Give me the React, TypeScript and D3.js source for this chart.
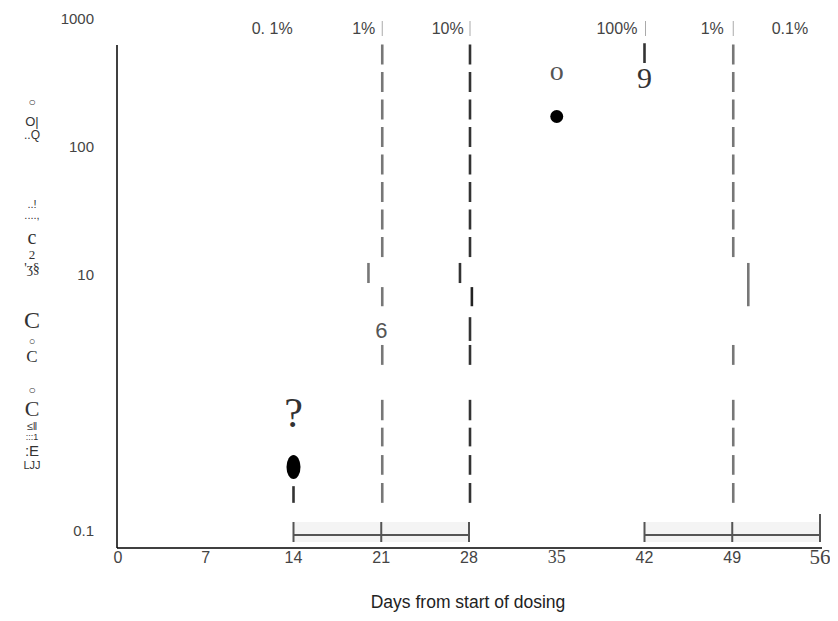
import React from "react";
import * as d3 from "d3";

const xTicks = [0, 7, 14, 21, 28, 35, 42, 49, 56];
const xTickSerif = [35, 56];
const yTicks = [1000, 100, 10, 0.1];
const yTickLabels = ["1000", "100", "10", "0.1"];
const topLabels = [
  { day: 12.3, text: "0. 1%" },
  { day: 19.6, text: "1%" },
  { day: 26.3, text: "10%" },
  { day: 39.8, text: "100%" },
  { day: 47.4, text: "1%" },
  { day: 53.6, text: "0.1%" },
];
const topMarkDays = [21, 28, 42, 49];
const refLineDays = [21, 28, 49];
const upperRange = [620, 13.5];
const lowerDashes = [[2.79, 1.95], [1.04, 0.72], [0.63, 0.45], [0.385, 0.27], [0.233, 0.163]];
const glitchDashes = [
  { day: 19.9, from: 12.2, to: 8.5, color: "#777" },
  { day: 21, from: 7.9, to: 5.6, color: "#777" },
  { day: 27.2, from: 12.2, to: 8.5, color: "#333" },
  { day: 28.15, from: 7.9, to: 5.6, color: "#222" },
  { day: 28, from: 4.6, to: 3.0, color: "#333" },
  { day: 50.2, from: 12.2, to: 5.6, color: "#777" },
];
const shortDashes = [
  { day: 14, from: 0.22, to: 0.163 },
  { day: 42, from: 635, to: 445 },
];
const filledPoints = [{ day: 35, value: 170 }];
const ellipsePoints = [{ day: 14, value: 0.31 }];
const pointLabels = [
  { day: 35, value: 390, text: "o", serif: true, size: 28, color: "#555" },
  { day: 42, value: 340, text: "9", serif: true, size: 30, color: "#333" },
  { day: 21, value: 3.65, text: "6", serif: false, size: 22, color: "#555" },
  { day: 14, value: 0.82, text: "?", serif: true, size: 42, color: "#333" },
];
const brackets = [[14, 21, 28], [42, 49, 56]];
const yGlyphs = [
  { t: "○", s: 12 }, { t: "O|", s: 13 }, { t: "..Q", s: 12 },
  { t: "..!", s: 11 }, { t: "....,", s: 11 }, { t: "c", s: 20 },
  { t: "2", s: 13 }, { t: "'ʒ§", s: 14 }, { t: "C", s: 24 },
  { t: "○", s: 11 }, { t: "C", s: 17 }, { t: "○", s: 12 },
  { t: "C", s: 22 }, { t: "≤ǁ", s: 11 }, { t: ":::1", s: 9 },
  { t: ":E", s: 15 }, { t: "LJJ", s: 11 },
];
const yGlyphPos = [102, 121, 135, 204, 215, 237, 254, 268, 320, 341, 356, 390, 408, 426, 437, 450, 465];

export default function App() {
  const x = d3.scaleLinear().domain([0, 56]).range([118, 820]);
  const y = d3.scaleLog().domain([0.1, 1000]).range([530, 18]);
  const axisY = 548;
  const dashW = 2.6;
  const serifGlyph = (t: string) => t === "C" || t === "c" || t === "2" || t === "'ʒ§";

  return (
    <svg width={830} height={610} style={{ display: "block", background: "#fff" }}
      fontFamily="'Liberation Sans', Arial, sans-serif">
      {/* y glyph label */}
      {yGlyphs.map((g, i) => (
        <text key={"g" + i} x={24} y={yGlyphPos[i] - 8} textAnchor="middle" dominantBaseline="central"
          fontSize={g.s} fill="#333" fontFamily={serifGlyph(g.t) ? "'Liberation Serif', serif" : "'Liberation Sans', sans-serif"}>
          {g.t}
        </text>
      ))}
      {/* y tick labels */}
      {yTicks.map((v, i) => (
        <text key={"yt" + i} x={86} y={y(v) - 8} textAnchor="end" dominantBaseline="central" fontSize={15} fill="#444">
          {yTickLabels[i]}
        </text>
      ))}
      {/* top labels */}
      {topLabels.map((l, i) => (
        <text key={"tl" + i} x={x(l.day) - 8} y={20} textAnchor="middle" dominantBaseline="central" fontSize={16} fill="#444">
          {l.text}
        </text>
      ))}
      {topMarkDays.map((d, i) => (
        <line key={"tm" + i} x1={x(d) - 7} x2={x(d) - 7} y1={13} y2={28} stroke="#aaa" strokeWidth={1} />
      ))}
      {/* bracket bands */}
      {brackets.map((b, i) => (
        <g key={"br" + i}>
          <rect x={x(b[0]) - 8} y={514} width={x(b[2]) - x(b[0])} height={20} fill="#f4f4f4" />
          <line x1={x(b[0]) - 8} x2={x(b[2]) - 8} y1={527} y2={527} stroke="#555" strokeWidth={2} />
          {b.map((d, j) => (
            <line key={j} x1={x(d) - 8} x2={x(d) - 8} y1={d === 56 ? 506 : 514} y2={534} stroke="#555" strokeWidth={2} />
          ))}
        </g>
      ))}
      {/* reference lines */}
      {refLineDays.map((d, i) => {
        const col = d === 28 ? "#333" : "#777";
        return (
          <g key={"rl" + i} stroke={col} strokeWidth={dashW}>
            <line x1={x(d) - 7} x2={x(d) - 7} y1={y(upperRange[0]) - 8} y2={y(upperRange[1]) - 8} strokeDasharray="20,7.5" />
            {lowerDashes.map((s, j) => (
              <line key={j} x1={x(d) - 7} x2={x(d) - 7} y1={y(s[0]) - 8} y2={y(s[1]) - 8} />
            ))}
          </g>
        );
      })}
      {glitchDashes.map((g, i) => (
        <line key={"gd" + i} x1={x(g.day) - 7} x2={x(g.day) - 7} y1={y(g.from) - 8} y2={y(g.to) - 8} stroke={g.color} strokeWidth={dashW} />
      ))}
      {shortDashes.map((g, i) => (
        <line key={"sd" + i} x1={x(g.day) - 8} x2={x(g.day) - 8} y1={y(g.from) - 8} y2={y(g.to) - 8} stroke="#333" strokeWidth={dashW} />
      ))}
      {/* points */}
      {filledPoints.map((p, i) => (
        <circle key={"fp" + i} cx={x(p.day) - 8} cy={y(p.value) - 8} r={6.5} fill="#000" />
      ))}
      {ellipsePoints.map((p, i) => (
        <ellipse key={"ep" + i} cx={x(p.day) - 8} cy={y(p.value) - 8} rx={7} ry={12} fill="#000" />
      ))}
      {pointLabels.map((p, i) => (
        <text key={"pl" + i} x={x(p.day) - 8} y={y(p.value) - 8} textAnchor="middle" dominantBaseline="central"
          fontSize={p.size} fill={p.color}
          fontFamily={p.serif ? "'Liberation Serif', 'DejaVu Serif', serif" : "'Liberation Sans', sans-serif"}>
          {p.text}
        </text>
      ))}
      {/* axes */}
      <line x1={x(0) - 9} x2={x(0) - 9} y1={37} y2={axisY - 8} stroke="#000" strokeWidth={1.5} />
      <line x1={x(0) - 9} x2={x(56) - 6} y1={axisY - 8} y2={axisY - 8} stroke="#000" strokeWidth={1.5} />
      {xTicks.map((t) => {
        const serif = xTickSerif.includes(t);
        return (
          <text key={"xt" + t} x={x(t) - 8} y={axisY + 1} textAnchor="middle" dominantBaseline="central"
            fontSize={t === 56 ? 21 : serif ? 18 : 16} fill="#444"
            fontFamily={serif ? "'Liberation Serif', serif" : "'Liberation Sans', sans-serif"}>
            {t}
          </text>
        );
      })}
      <text x={460} y={594} textAnchor="middle" dominantBaseline="central" fontSize={17.5} fill="#222">
        Days from start of dosing
      </text>
    </svg>
  );
}
